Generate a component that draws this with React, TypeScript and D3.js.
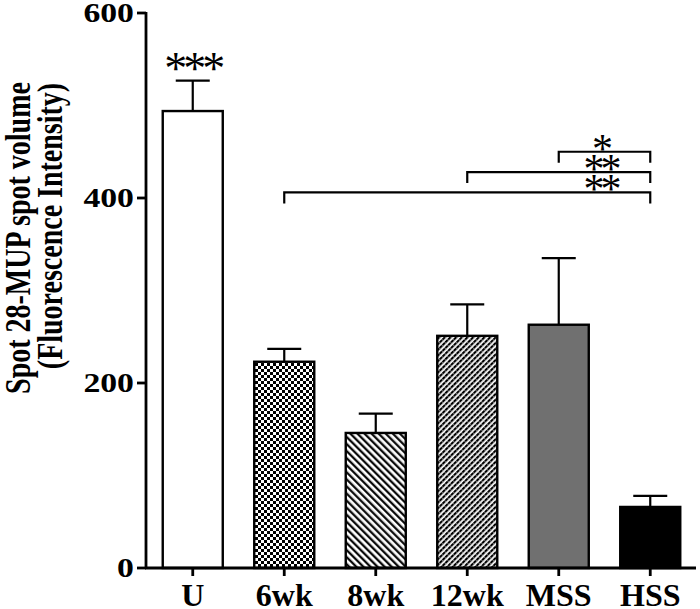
import React from "react";
import * as d3 from "d3";

// ---------- data ----------
const categories = ["U", "6wk", "8wk", "12wk", "MSS", "HSS"];
const means = [494, 223, 146, 251, 263, 66];
const sems = [33, 14, 21, 34, 72, 12];
const yTicks = [0, 200, 400, 600];
const comparisons = [
  { from: "MSS", to: "HSS", label: "*", level: 450 },
  { from: "12wk", to: "HSS", label: "**", level: 428 },
  { from: "6wk", to: "HSS", label: "**", level: 406 },
];
const topMarkCategory = "U";
const topMarkLabel = "***";
const yTitleLines = ["Spot 28-MUP spot volume", "(Fluorescence Intensity)"];

// ---------- styles ----------
const barFill: Record<string, string> = {
  U: "#ffffff",
  "6wk": "url(#checker)",
  "8wk": "url(#hatchBack)",
  "12wk": "url(#hatchFwd)",
  MSS: "#707070",
  HSS: "#000000",
};

const W = 700;
const H = 609;
const FONT = "'Liberation Serif', 'Times New Roman', Times, serif";

export default function App() {
  const y = d3.scaleLinear().domain([0, 600]).range([568, 13]);
  const x = d3
    .scaleBand<string>()
    .domain(categories)
    .range([147, 696])
    .paddingInner(0.344)
    .paddingOuter(0.172);
  const bw = x.bandwidth();
  const cx = (c: string) => (x(c) as number) + bw / 2;
  const axisX = 146;
  const baseY = y(0);
  const capHalf = 17;

  return (
    <svg
      width={W}
      height={H}
      style={{ position: "absolute", left: 0, top: 0, background: "#fff" }}
    >
      <defs>
        <pattern id="checker" width={6} height={6} patternUnits="userSpaceOnUse">
          <rect width={6} height={6} fill="#fff" />
          <rect x={0} y={0} width={3} height={3} fill="#000" />
          <rect x={3} y={3} width={3} height={3} fill="#000" />
        </pattern>
        <pattern
          id="hatchBack"
          width={5}
          height={5}
          patternUnits="userSpaceOnUse"
          patternTransform="rotate(-45)"
        >
          <rect width={5} height={5} fill="#fff" />
          <line x1={1.2} y1={0} x2={1.2} y2={5} stroke="#000" strokeWidth={2.2} />
        </pattern>
        <pattern
          id="hatchFwd"
          width={4}
          height={4}
          patternUnits="userSpaceOnUse"
          patternTransform="rotate(45)"
        >
          <rect width={4} height={4} fill="#fff" />
          <rect x={0} y={0} width={2.2} height={4} fill="#000" />
          <rect x={0} y={3.2} width={2.2} height={0.8} fill="#888" />
        </pattern>
      </defs>

      {/* y axis title */}
      <g fontFamily={FONT} fontWeight="bold" fontSize={28} fill="#000">
        <text
          transform={`translate(30,238) rotate(-90) scale(1,1.25)`}
          textAnchor="middle"
        >
          {yTitleLines[0]}
        </text>
        <text
          transform={`translate(62,226) rotate(-90) scale(1,1.25)`}
          textAnchor="middle"
        >
          {yTitleLines[1]}
        </text>
      </g>

      {/* bars */}
      {categories.map((c, i) => (
        <rect
          key={c}
          x={x(c)}
          y={y(means[i])}
          width={bw}
          height={baseY - y(means[i])}
          fill={barFill[c]}
          stroke="#000"
          strokeWidth={2.4}
        />
      ))}

      {/* error bars */}
      {categories.map((c, i) => (
        <g key={"e" + c} stroke="#000" strokeWidth={2.2}>
          <line x1={cx(c)} x2={cx(c)} y1={y(means[i])} y2={y(means[i] + sems[i])} />
          <line
            x1={cx(c) - capHalf}
            x2={cx(c) + capHalf}
            y1={y(means[i] + sems[i])}
            y2={y(means[i] + sems[i])}
          />
        </g>
      ))}

      {/* axes */}
      <g stroke="#000" strokeWidth={2.8}>
        <line x1={axisX} x2={axisX} y1={y(600) - 1} y2={baseY + 1} />
        <line x1={axisX - 1} x2={696} y1={baseY} y2={baseY} />
        {yTicks.map((t) => (
          <line key={"yt" + t} x1={137} x2={axisX} y1={y(t)} y2={y(t)} />
        ))}
        {categories.map((c) => (
          <line key={"xt" + c} x1={cx(c)} x2={cx(c)} y1={baseY} y2={baseY + 8} />
        ))}
      </g>

      {/* y tick labels */}
      <g fontFamily={FONT} fontWeight="bold" fontSize={27} fill="#000">
        {yTicks.map((t) => (
          <text
            key={"yl" + t}
            transform={`translate(134,${y(t) + 9}) scale(1.25,1)`}
            textAnchor="end"
          >
            {t}
          </text>
        ))}
      </g>

      {/* x tick labels */}
      <g fontFamily={FONT} fontWeight="bold" fontSize={32} fill="#000">
        {categories.map((c) => (
          <text key={"xl" + c} x={cx(c)} y={606} textAnchor="middle">
            {c}
          </text>
        ))}
      </g>

      {/* top significance mark */}
      {(() => {
        const i = categories.indexOf(topMarkCategory);
        return (
          <text
            x={cx(topMarkCategory)}
            y={y(means[i] + sems[i]) + 3}
            textAnchor="middle"
            fontFamily={FONT}
            fontSize={46}
            letterSpacing={-4}
            fill="#000"
          >
            {topMarkLabel}
          </text>
        );
      })()}

      {/* comparison brackets */}
      {comparisons.map((cmp) => {
        const ly = y(cmp.level);
        const x1 = cx(cmp.from);
        const x2 = cx(cmp.to);
        const lx = cx(cmp.to) - x.step() / 2 - 4;
        return (
          <g key={cmp.from + cmp.to}>
            <path
              d={`M${x1},${ly + 11}V${ly}H${x2}V${ly + 11}`}
              fill="none"
              stroke="#000"
              strokeWidth={2.2}
            />
            <text
              x={lx}
              y={ly + 11}
              textAnchor="middle"
              fontFamily={FONT}
              fontSize={42}
              letterSpacing={-4}
              fill="#000"
            >
              {cmp.label}
            </text>
          </g>
        );
      })}
    </svg>
  );
}
